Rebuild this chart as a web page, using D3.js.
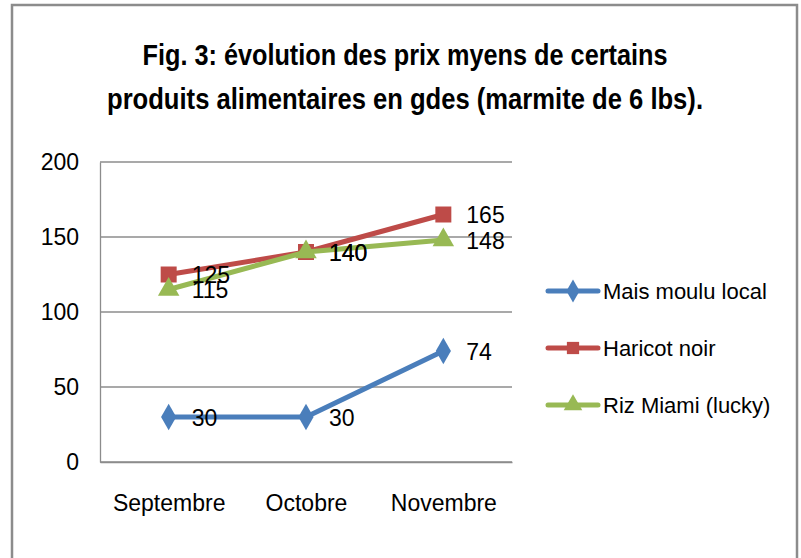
<!DOCTYPE html>
<html><head><meta charset="utf-8">
<script src="https://cdn.jsdelivr.net/npm/d3@7"></script>
<style>body{margin:0;background:#fff;} text{font-family:"Liberation Sans Narrow","Liberation Sans",sans-serif;fill:#000;}</style>
</head><body>
<svg id="c" width="801" height="558"></svg>
<script>
const categories = ["Septembre", "Octobre", "Novembre"];
const seriesNames = ["Mais moulu local", "Haricot noir", "Riz Miami (lucky)"];
const maisValues = [30, 30, 74];
const haricotValues = [125, 140, 165];
const rizValues = [115, 140, 148];
const yTicks = [0, 50, 100, 150, 200];
const titleLines = ["Fig. 3: évolution des prix myens de certains", "produits alimentaires en gdes (marmite de 6 lbs)."];

const colors = ["#4a7ebb", "#be4b48", "#98b954"];
const symbols = [d3.symbolDiamond, d3.symbolSquare, d3.symbolTriangle];
const series = [maisValues, haricotValues, rizValues].map((v, i) => ({name: seriesNames[i], values: v, color: colors[i], symbol: symbols[i]}));

const svg = d3.select("#c");
// outer frame
svg.append("rect").attr("x", 12).attr("y", 5).attr("width", 785).attr("height", 570)
  .attr("fill", "#fff").attr("stroke", "#8c8c8c").attr("stroke-width", 2.5);

// title
const titleWidths = [525, 596];
svg.selectAll("text.title").data(titleLines).join("text").attr("class", "title")
  .attr("x", 405).attr("y", (d, i) => 65 + i * 44).attr("text-anchor", "middle")
  .attr("textLength", (d, i) => titleWidths[i]).attr("lengthAdjust", "spacingAndGlyphs")
  .style("font-size", "30px").style("font-weight", "bold").text(d => d);

const pLeft = 100, pRight = 512, pTop = 162, pBottom = 462;
const x = d3.scalePoint().domain(categories).range([pLeft, pRight]).padding(0.5);
const y = d3.scaleLinear().domain([0, 200]).range([pBottom, pTop]);

// gridlines
svg.append("g").selectAll("line").data(yTicks).join("line")
  .attr("x1", pLeft).attr("x2", pRight).attr("y1", d => y(d)).attr("y2", d => y(d))
  .attr("stroke", "#8c8c8c").attr("stroke-width", 1.3);

// y axis
const ya = svg.append("g").attr("transform", `translate(${pLeft},0)`)
  .call(d3.axisLeft(y).tickValues(yTicks).tickSize(0).tickPadding(21));
ya.select(".domain").attr("stroke", "#8c8c8c").attr("stroke-width", 1.3);
ya.selectAll("text").style("font-size", "23px").style("font-family", "'Liberation Sans Narrow',sans-serif").attr("fill", "#000");

// x axis
const xa = svg.append("g").attr("transform", `translate(0,${pBottom})`)
  .call(d3.axisBottom(x).tickSize(0).tickPadding(42));
xa.select(".domain").attr("stroke", "#8c8c8c").attr("stroke-width", 1.3);
xa.selectAll("text").style("font-size", "23px").style("font-family", "'Liberation Sans Narrow',sans-serif").attr("fill", "#000").attr("dy", "0.3em");

const line = d3.line().x((d, i) => x(categories[i])).y(d => y(d));

series.forEach(s => {
  svg.append("path").datum(s.values).attr("d", line).attr("fill", "none")
    .attr("stroke", s.color).attr("stroke-width", 5).attr("stroke-linejoin", "round");
  svg.append("g").selectAll("path").data(s.values).join("path")
    .attr("transform", (d, i) => `translate(${x(categories[i])},${y(d)})`)
    .attr("d", d3.symbol().type(s.symbol).size(s.symbol === d3.symbolSquare ? 256 : 200))
    .attr("fill", s.color);
});
// data labels
series.forEach(s => {
  svg.append("g").selectAll("text").data(s.values).join("text")
    .attr("x", (d, i) => x(categories[i]) + 23).attr("y", d => y(d))
    .attr("dy", "0.38em").style("font-size", "23px").text(d => d);
});

// legend
const lg = svg.append("g");
series.forEach((s, i) => {
  const ly = 291 + i * 57;
  lg.append("line").attr("x1", 548).attr("x2", 598).attr("y1", ly).attr("y2", ly)
    .attr("stroke", s.color).attr("stroke-width", 5).attr("stroke-linecap", "round");
  lg.append("path").attr("transform", `translate(573,${ly})`)
    .attr("d", d3.symbol().type(s.symbol).size(150)).attr("fill", s.color);
  lg.append("text").attr("x", 603).attr("y", ly).attr("dy", "0.35em")
    .style("font-size", "22px").text(s.name);
});
</script>
</body></html>
